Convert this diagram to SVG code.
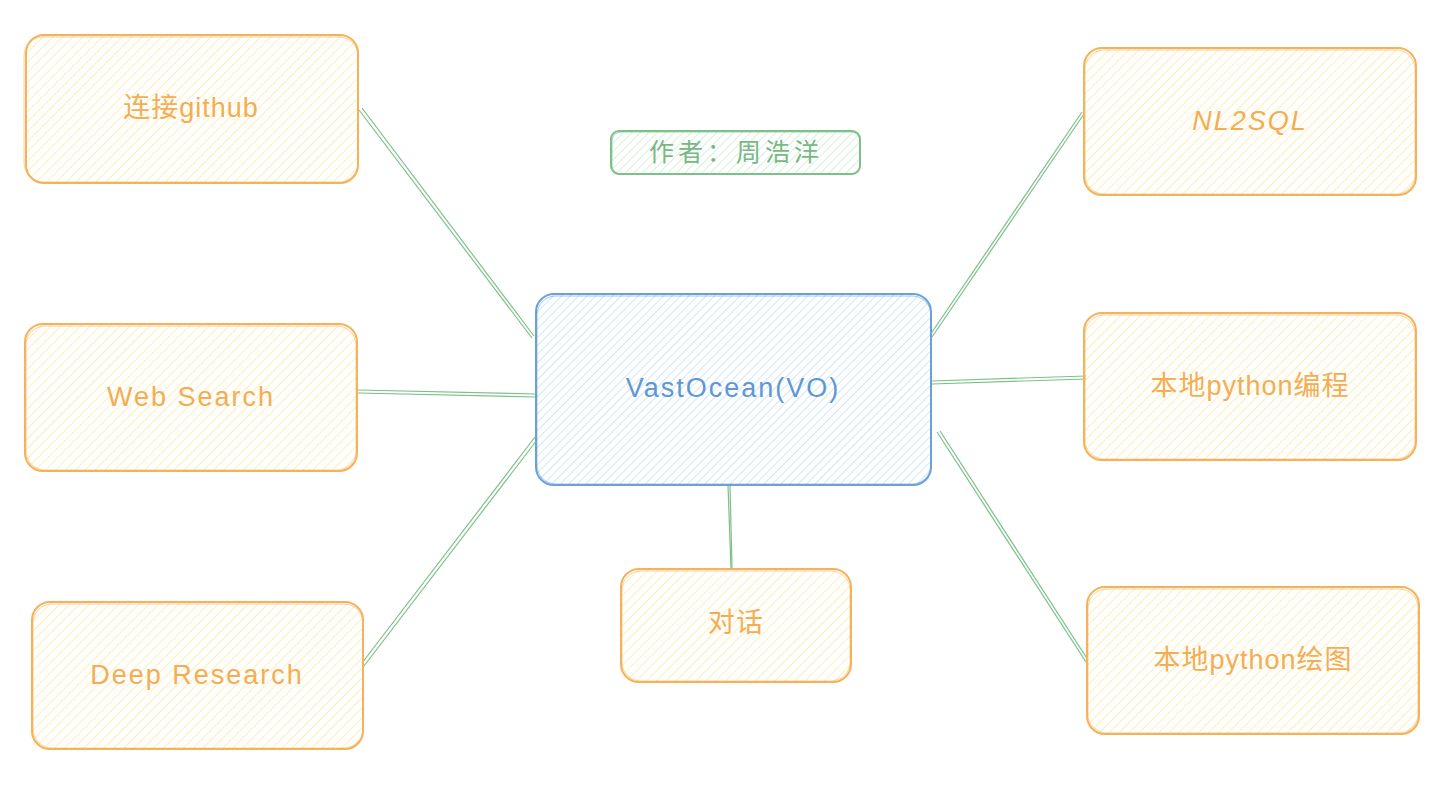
<svg xmlns="http://www.w3.org/2000/svg" width="1454" height="791" viewBox="0 0 1454 791">
<defs>
<pattern id="hO" width="7" height="7" patternUnits="userSpaceOnUse" patternTransform="rotate(45)"><line x1="0" y1="0" x2="0" y2="7" stroke="#ffe8a0" stroke-width="1.5"/></pattern>
<pattern id="hB" width="6" height="6" patternUnits="userSpaceOnUse" patternTransform="rotate(45)"><line x1="0" y1="0" x2="0" y2="6" stroke="#b6d8f7" stroke-width="1.3"/></pattern>
<pattern id="hG" width="6" height="6" patternUnits="userSpaceOnUse" patternTransform="rotate(45)"><line x1="0" y1="0" x2="0" y2="6" stroke="#bfe9c6" stroke-width="1.3"/></pattern>
</defs>
<style>
.o{fill:url(#hO);stroke:#f5b25a;stroke-width:2}
.o2{fill:none;stroke:#f5b25a;stroke-width:1;opacity:.6}
.b{fill:url(#hB);stroke:#6ba1da;stroke-width:2}
.b2{fill:none;stroke:#6ba1da;stroke-width:1;opacity:.6}
.g{fill:url(#hG);stroke:#7cc08a;stroke-width:2}
.g2{fill:none;stroke:#7cc08a;stroke-width:1;opacity:.6}
text{font-family:"Liberation Sans","Noto Sans CJK SC",sans-serif;font-size:27px;text-anchor:middle;dominant-baseline:central;letter-spacing:1px}
.to{fill:#f4ad52}.tb{fill:#5f97d4}.tg{fill:#78b884}
.c line{stroke:#7cc08a;stroke-width:1.2;fill:none}
</style>
<g class="c" id="connectors">
<line x1="362" y1="108" x2="534" y2="336"/><line x1="359" y1="110" x2="532" y2="338"/>
<line x1="358" y1="390" x2="536" y2="394"/><line x1="358" y1="393" x2="536" y2="397"/>
<line x1="364" y1="666" x2="537" y2="440"/><line x1="362" y1="663" x2="535" y2="437"/>
<line x1="728" y1="485" x2="731" y2="569"/><line x1="730" y1="485" x2="732" y2="569"/>
<line x1="930" y1="335" x2="1082" y2="112"/><line x1="932" y1="337" x2="1084" y2="114"/>
<line x1="932" y1="381" x2="1086" y2="376"/><line x1="932" y1="384" x2="1086" y2="379"/>
<line x1="937" y1="432" x2="1086" y2="662"/><line x1="940" y1="431" x2="1088" y2="660"/>
</g>
<g id="author"><rect class="g" x="611" y="131" width="249" height="43" rx="8"/><rect class="g2" x="612" y="132" width="248" height="42" rx="9"/><text class="tg" x="736" y="152" style="font-size:25px;letter-spacing:4px">作者：周浩洋</text></g>
<g id="vo"><rect class="b" x="536" y="294" width="395" height="191" rx="18"/><rect class="b2" x="537" y="296" width="394" height="188" rx="19"/><text class="tb" x="733" y="388" style="letter-spacing:2px">VastOcean(VO)</text></g>
<g id="github"><rect class="o" x="26" y="35" width="332" height="148" rx="18"/><rect class="o2" x="24" y="37" width="334" height="145" rx="19"/><text class="to" x="191" y="108">连接github</text></g>
<g id="websearch"><rect class="o" x="25" y="324" width="332" height="147" rx="18"/><rect class="o2" x="26" y="326" width="330" height="144" rx="19"/><text class="to" x="191" y="397" style="letter-spacing:2px">Web Search</text></g>
<g id="deepresearch"><rect class="o" x="32" y="602" width="331" height="147" rx="18"/><rect class="o2" x="33" y="604" width="330" height="144" rx="19"/><text class="to" x="197" y="675" style="letter-spacing:2px">Deep Research</text></g>
<g id="chat"><rect class="o" x="621" y="569" width="230" height="113" rx="18"/><rect class="o2" x="622" y="571" width="228" height="110" rx="19"/><text class="to" x="736" y="623">对话</text></g>
<g id="nl2sql"><rect class="o" x="1084" y="48" width="332" height="147" rx="18"/><rect class="o2" x="1085" y="50" width="330" height="144" rx="19"/><text class="to" x="1250" y="121" style="font-style:italic;letter-spacing:2px">NL2SQL</text></g>
<g id="pycode"><rect class="o" x="1084" y="313" width="332" height="147" rx="18"/><rect class="o2" x="1085" y="315" width="330" height="144" rx="19"/><text class="to" x="1250" y="386">本地python编程</text></g>
<g id="pyplot"><rect class="o" x="1087" y="587" width="332" height="147" rx="18"/><rect class="o2" x="1088" y="589" width="330" height="144" rx="19"/><text class="to" x="1253" y="660">本地python绘图</text></g>
</svg>
